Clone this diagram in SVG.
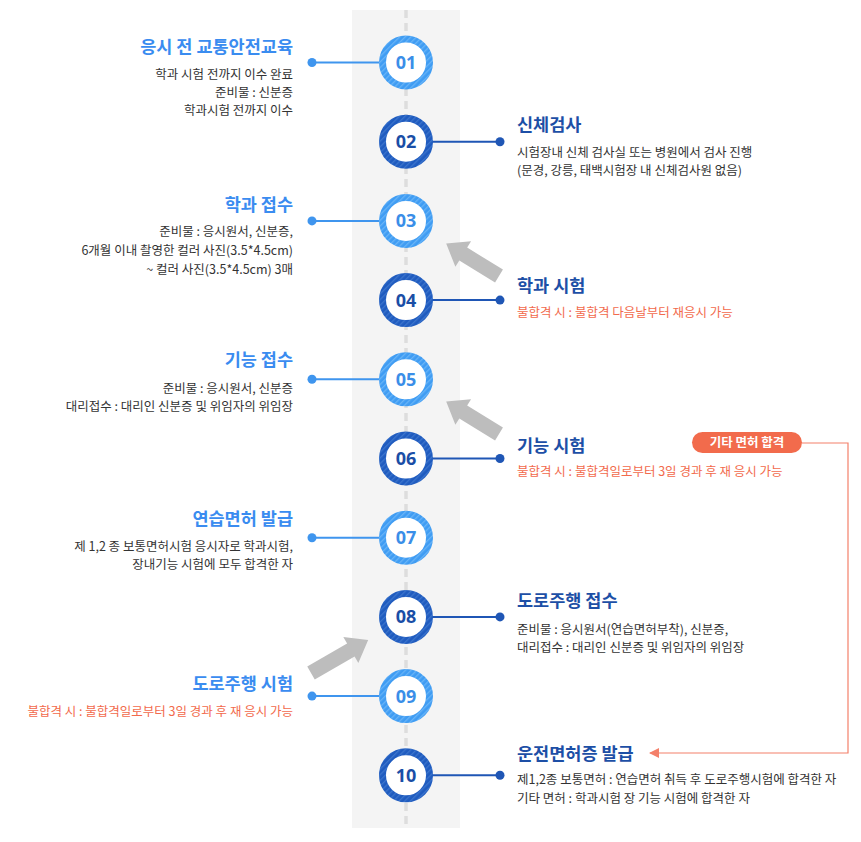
<svg xmlns="http://www.w3.org/2000/svg" width="861" height="842" viewBox="0 0 861 842">
<defs>
<style>
text{font-family:'Noto Sans CJK KR','Noto Sans',sans-serif}
.tl{font-size:17.5px;font-weight:700;fill:#3a8cf0;text-anchor:end}
.tr{font-size:17.5px;font-weight:700;fill:#1d4fa6}
.sl{font-size:12.5px;fill:#333;text-anchor:end}
.sr{font-size:12.5px;fill:#333}
.red{fill:#f26a4c}
.num{font-family:'Noto Sans','Noto Sans CJK KR',sans-serif;font-size:18px;font-weight:700;text-anchor:middle}
.nl{fill:#3a8ee8}
.nd{fill:#1a4ea6}
.rl{fill:#fff;stroke:url(#hatchL);stroke-width:7}
.rd{fill:#fff;stroke:url(#hatchD);stroke-width:7}
.cl{stroke:#3f95ee;stroke-width:2;fill:none}
.cd{stroke:#1f56b5;stroke-width:2;fill:none}
.dl{fill:#3f95ee}
.dd{fill:#1f56b5}
.ga{fill:#bdbdbd}
</style>
<pattern id="hatchL" patternUnits="userSpaceOnUse" width="4" height="4" patternTransform="rotate(45)">
<rect width="4" height="4" fill="#3f9cf3"/>
<rect width="1.3" height="4" fill="#68b4f7"/>
</pattern>
<pattern id="hatchD" patternUnits="userSpaceOnUse" width="4" height="4" patternTransform="rotate(45)">
<rect width="4" height="4" fill="#1f5bbf"/>
<rect width="1.3" height="4" fill="#3b74cc"/>
</pattern>
<marker id="redArrow" markerWidth="10" markerHeight="10" refX="9" refY="5" orient="auto" markerUnits="userSpaceOnUse">
<path d="M0,0 L10,5 L0,10 Z" fill="#f4806a"/>
</marker>
</defs>
<rect x="352" y="10" width="108" height="818" fill="#f4f4f4"/>
<line x1="406" y1="10" x2="406" y2="828" stroke="#dddddd" stroke-width="3.5" stroke-dasharray="8,5"/>

<g id="connectors">
<line class="cl" x1="312" y1="62.5" x2="380" y2="62.5"/><circle class="dl" cx="312" cy="62.5" r="4.5"/>
<line class="cd" x1="432" y1="141.7" x2="500" y2="141.7"/><circle class="dd" cx="500" cy="141.7" r="4.5"/>
<line class="cl" x1="312" y1="220.9" x2="380" y2="220.9"/><circle class="dl" cx="312" cy="220.9" r="4.5"/>
<line class="cd" x1="432" y1="300.1" x2="500" y2="300.1"/><circle class="dd" cx="500" cy="300.1" r="4.5"/>
<line class="cl" x1="312" y1="379.3" x2="380" y2="379.3"/><circle class="dl" cx="312" cy="379.3" r="4.5"/>
<line class="cd" x1="432" y1="458.5" x2="500" y2="458.5"/><circle class="dd" cx="500" cy="458.5" r="4.5"/>
<line class="cl" x1="312" y1="537.7" x2="380" y2="537.7"/><circle class="dl" cx="312" cy="537.7" r="4.5"/>
<line class="cd" x1="432" y1="616.9" x2="500" y2="616.9"/><circle class="dd" cx="500" cy="616.9" r="4.5"/>
<line class="cl" x1="312" y1="696.1" x2="380" y2="696.1"/><circle class="dl" cx="312" cy="696.1" r="4.5"/>
<line class="cd" x1="432" y1="775.3" x2="500" y2="775.3"/><circle class="dd" cx="500" cy="775.3" r="4.5"/>
<polygon class="ga" transform="translate(499,276) rotate(-148.4)" points="0,-7.5 42,-7.5 42,-15 62,0 42,15 42,7.5 0,7.5"/>
<polygon class="ga" transform="translate(499,434) rotate(-148.4)" points="0,-7.5 42,-7.5 42,-15 62,0 42,15 42,7.5 0,7.5"/>
<polygon class="ga" transform="translate(311,673) rotate(-30)" points="0,-7.5 46,-7.5 46,-15 66,0 46,15 46,7.5 0,7.5"/>
<polyline points="802,443 848,443 848,753 650,753" fill="none" stroke="#f4806a" stroke-width="1.2" marker-end="url(#redArrow)"/>
</g>

<g id="step01">
<circle class="rl" cx="406" cy="62.5" r="23.5"/>
<text class="num nl" x="406" y="69">01</text>
<text class="tl" x="293" y="53">응시 전 교통안전교육</text>
<text class="sl" x="293" y="79">학과 시험 전까지 이수 완료</text>
<text class="sl" x="293" y="97">준비물 : 신분증</text>
<text class="sl" x="293" y="115">학과시험 전까지 이수</text>
</g>
<g id="step02">
<circle class="rd" cx="406" cy="141.7" r="23.5"/>
<text class="num nd" x="406" y="148.2">02</text>
<text class="tr" x="517" y="131">신체검사</text>
<text class="sr" x="517" y="157">시험장내 신체 검사실 또는 병원에서 검사 진행</text>
<text class="sr" x="517" y="175">(문경, 강릉, 태백시험장 내 신체검사원 없음)</text>
</g>
<g id="step03">
<circle class="rl" cx="406" cy="220.9" r="23.5"/>
<text class="num nl" x="406" y="227.4">03</text>
<text class="tl" x="293" y="211">학과 접수</text>
<text class="sl" x="293" y="236">준비물 : 응시원서, 신분증,</text>
<text class="sl" x="293" y="255">6개월 이내 촬영한 컬러 사진(3.5*4.5cm)</text>
<text class="sl" x="293" y="274">~ 컬러 사진(3.5*4.5cm) 3매</text>
</g>
<g id="step04">
<circle class="rd" cx="406" cy="300.1" r="23.5"/>
<text class="num nd" x="406" y="306.6">04</text>
<text class="tr" x="517" y="292">학과 시험</text>
<text class="sr red" x="517" y="317">불합격 시 : 불합격 다음날부터 재응시 가능</text>
</g>
<g id="step05">
<circle class="rl" cx="406" cy="379.3" r="23.5"/>
<text class="num nl" x="406" y="385.8">05</text>
<text class="tl" x="293" y="366">기능 접수</text>
<text class="sl" x="293" y="393">준비물 : 응시원서, 신분증</text>
<text class="sl" x="293" y="411">대리접수 : 대리인 신분증 및 위임자의 위임장</text>
</g>
<g id="step06">
<circle class="rd" cx="406" cy="458.5" r="23.5"/>
<text class="num nd" x="406" y="465">06</text>
<text class="tr" x="517" y="452">기능 시험</text>
<text class="sr red" x="517" y="476">불합격 시 : 불합격일로부터 3일 경과 후 재 응시 가능</text>
</g>
<g id="step07">
<circle class="rl" cx="406" cy="537.7" r="23.5"/>
<text class="num nl" x="406" y="544.2">07</text>
<text class="tl" x="293" y="525">연습면허 발급</text>
<text class="sl" x="293" y="551">제 1,2 종 보통면허시험 응시자로 학과시험,</text>
<text class="sl" x="293" y="569">장내기능 시험에 모두 합격한 자</text>
</g>
<g id="step08">
<circle class="rd" cx="406" cy="616.9" r="23.5"/>
<text class="num nd" x="406" y="623.4">08</text>
<text class="tr" x="517" y="607">도로주행 접수</text>
<text class="sr" x="517" y="634">준비물 : 응시원서(연습면허부착), 신분증,</text>
<text class="sr" x="517" y="652">대리접수 : 대리인 신분증 및 위임자의 위임장</text>
</g>
<g id="step09">
<circle class="rl" cx="406" cy="696.1" r="23.5"/>
<text class="num nl" x="406" y="702.6">09</text>
<text class="tl" x="293" y="690">도로주행 시험</text>
<text class="sl red" x="293" y="716">불합격 시 : 불합격일로부터 3일 경과 후 재 응시 가능</text>
</g>
<g id="step10">
<circle class="rd" cx="406" cy="775.3" r="23.5"/>
<text class="num nd" x="406" y="781.8">10</text>
<text class="tr" x="517" y="760">운전면허증 발급</text>
<text class="sr" x="517" y="784">제1,2종 보통면허 : 연습면허 취득 후 도로주행시험에 합격한 자</text>
<text class="sr" x="517" y="803">기타 면허 : 학과시험 장 기능 시험에 합격한 자</text>
</g>
<g id="badge">
<rect x="692" y="432" width="110" height="21" rx="10.5" fill="#f26b4c"/>
<text x="747" y="447" font-size="12.5" font-weight="700" fill="#fff" text-anchor="middle">기타 면허 합격</text>
</g>
</svg>
